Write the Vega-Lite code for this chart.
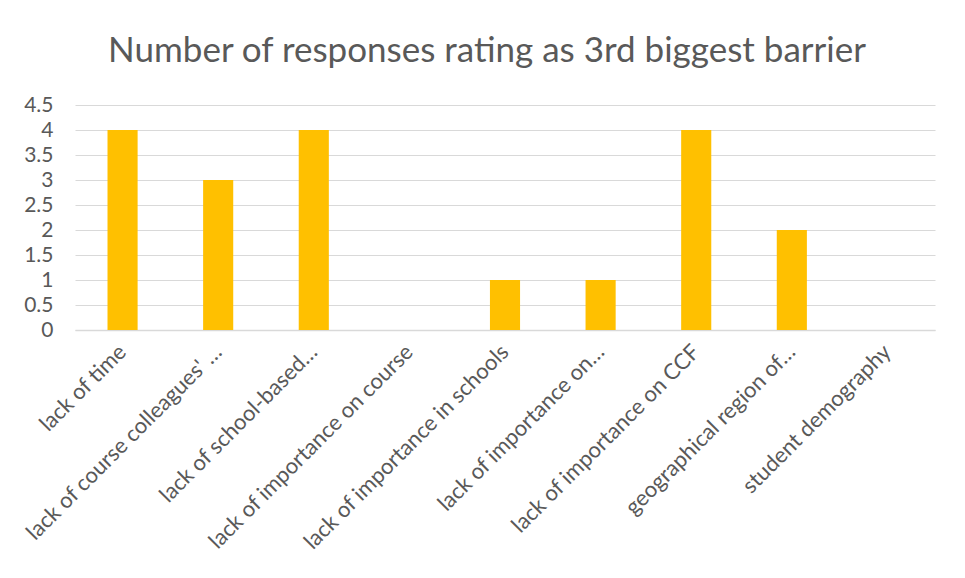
{
  "$schema": "https://vega.github.io/schema/vega-lite/v6.json",
  "autosize": {"type": "none"},
  "width": 860,
  "height": 225,
  "padding": {"left": 75, "top": 105, "right": 30, "bottom": 248},
  "background": "#ffffff",
  "title": {
    "text": "Number of responses rating as 3rd biggest barrier",
    "font": "Lato",
    "fontSize": 35,
    "fontWeight": "normal",
    "color": "#595959",
    "anchor": "middle",
    "dx": -18,
    "offset": 25
  },
  "data": {
    "values": [
      {"barrier": "lack of time", "count": 4},
      {"barrier": "lack of course colleagues' …", "count": 3},
      {"barrier": "lack of school-based…", "count": 4},
      {"barrier": "lack of importance on course", "count": 0},
      {"barrier": "lack of importance in schools", "count": 1},
      {"barrier": "lack of importance on…", "count": 1},
      {"barrier": "lack of importance on CCF", "count": 4},
      {"barrier": "geographical region of…", "count": 2},
      {"barrier": "student demography", "count": 0}
    ]
  },
  "mark": {"type": "bar", "color": "#FFC000"},
  "encoding": {
    "x": {
      "field": "barrier",
      "type": "nominal",
      "sort": null,
      "title": null,
      "scale": {"paddingInner": 0.685, "paddingOuter": 0.34},
      "axis": {
        "labelAngle": -45,
        "labelAlign": "right",
        "labelBaseline": "middle",
        "labelFont": "Lato",
        "labelFontSize": 22,
        "labelColor": "#595959",
        "labelPadding": 18,
        "labelLimit": 500,
        "ticks": false,
        "domainColor": "#d9d9d9",
        "domainWidth": 1.5
      }
    },
    "y": {
      "field": "count",
      "type": "quantitative",
      "title": null,
      "scale": {"domain": [0, 4.5]},
      "axis": {
        "values": [0, 0.5, 1, 1.5, 2, 2.5, 3, 3.5, 4, 4.5],
        "format": "~g",
        "labelFont": "Lato",
        "labelFontSize": 21,
        "labelColor": "#595959",
        "labelPadding": 22,
        "ticks": false,
        "domain": false,
        "gridColor": "#d9d9d9",
        "gridWidth": 1
      }
    }
  },
  "config": {"view": {"stroke": null}}
}
